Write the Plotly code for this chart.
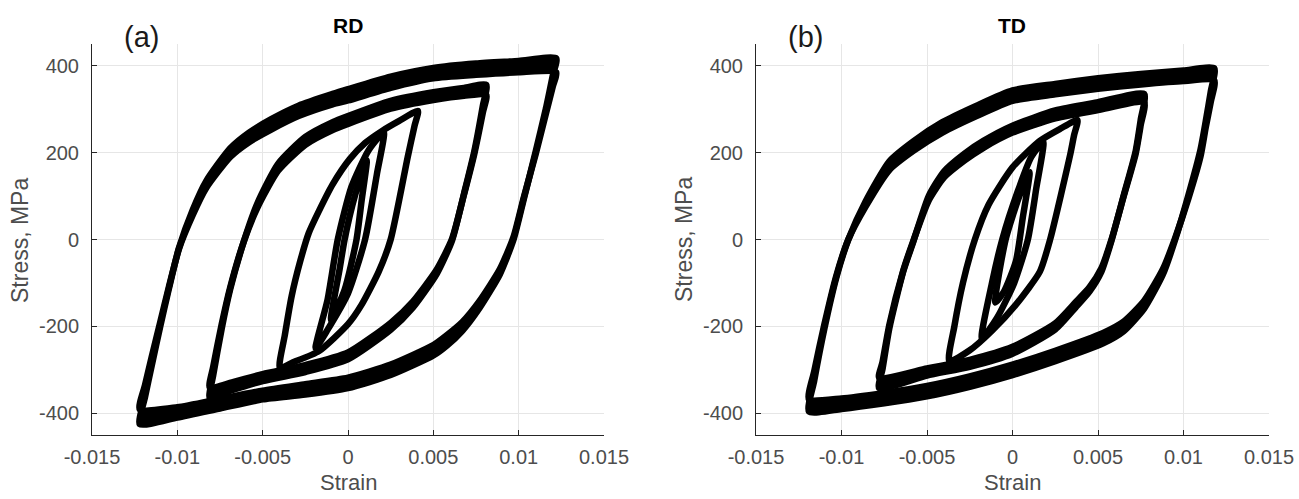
import plotly.graph_objects as go

# ---------------------------------------------------------------------------
# Stress-strain hysteresis loops, RD and TD specimens.
# Each branch: strain points, and stress of the two bounding cycles (A/B)
# where the repeated cycles form a band; single stress list otherwise.
# ---------------------------------------------------------------------------

# ---- RD, strain amplitude ~1.2 % ----
RD12_UP_EPS = [-0.0122, -0.0119, -0.0115, -0.0110, -0.0105, -0.0099, -0.0091, -0.0083, -0.0069,
               -0.0058, -0.0045, -0.0029, -0.0009, 0.0, 0.0025, 0.005, 0.0075, 0.010, 0.0122]
RD12_UP_SIG_A = [-391, -336, -270, -190, -110, -21, 56, 119, 190, 224, 253, 284, 311, 320, 349,
                 371, 379, 385, 385]
RD12_UP_SIG_B = [-425, -364, -290, -200, -114, -19, 68, 135, 210, 246, 277, 308, 335, 346, 375,
                 395, 405, 411, 417]
RD12_DN_EPS = [0.0122, 0.0120, 0.0116, 0.0110, 0.0103, 0.0097, 0.0089, 0.0077, 0.0067, 0.0058,
               0.0050, 0.0025, 0.0, -0.0025, -0.005, -0.0075, -0.010, -0.0122]
RD12_DN_SIG_A = [385, 352, 290, 197, 97, 6, -68, -142, -190, -220, -243, -288, -318, -333, -348,
                 -367, -386, -391]
RD12_DN_SIG_B = [417, 378, 302, 203, 93, 0, -80, -158, -210, -244, -267, -312, -342, -357, -368,
                 -389, -410, -425]

# ---- RD, strain amplitude ~0.8 % ----
RD08_UP_EPS = [-0.0081, -0.0079, -0.0074, -0.0069, -0.0061, -0.0053, -0.0041, -0.0025, -0.0009,
               0.0, 0.0025, 0.005, 0.0068, 0.0081]
RD08_UP_SIG_A = [-341, -293, -195, -110, -4, 74, 158, 218, 252, 266, 301, 321, 331, 333]
RD08_UP_SIG_B = [-365, -313, -205, -114, -4, 84, 174, 236, 270, 284, 319, 339, 349, 356]
RD08_DN_EPS = [0.0081, 0.0079, 0.0074, 0.0068, 0.0061, 0.0052, 0.0038, 0.0025, 0.0, -0.0025,
               -0.005, -0.0068, -0.0081]
RD08_DN_SIG_A = [333, 292, 197, 104, 2, -69, -143, -192, -260, -289, -310, -329, -341]
RD08_DN_SIG_B = [356, 308, 203, 106, -2, -79, -157, -208, -276, -305, -326, -347, -365]

# ---- RD, strain amplitude ~0.4 % ----
RD04_UP_EPS = [-0.0040, -0.0037, -0.0033, -0.0028, -0.0023, -0.0017, -0.0009, 0.0001, 0.0010,
               0.0020, 0.0030, 0.0041]
RD04_UP_SIG = [-296, -220, -130, -50, 15, 66, 127, 185, 222, 250, 273, 296]
RD04_DN_EPS = [0.0041, 0.0039, 0.0035, 0.0025, 0.0018, 0.0008, 0.0, -0.0017, -0.0033, -0.0040]
RD04_DN_SIG = [296, 262, 190, 0, -74, -150, -195, -257, -284, -296]

# ---- RD, strain amplitude ~0.2 % ----
RD02_UP_EPS = [-0.0019, -0.0012, -0.0006, 0.0002, 0.0012, 0.0021]
RD02_UP_SIG = [-250, -139, 0, 121, 205, 247]
RD02_DN_EPS = [0.0021, 0.0017, 0.0010, 0.0, -0.0012, -0.0019]
RD02_DN_SIG = [247, 152, 0, -124, -208, -250]

# ---- RD, strain amplitude ~0.1 % ----
RD01_UP_EPS = [-0.0010, -0.0005, -0.0002, 0.0004, 0.0011]
RD01_UP_SIG = [-185, -70, 0, 100, 182]
RD01_DN_EPS = [0.0011, 0.0008, 0.0005, -0.0002, -0.0010]
RD01_DN_SIG = [182, 90, 0, -116, -185]

# ---- TD, strain amplitude ~1.2 % ----
TD12_UP_EPS = [-0.0119, -0.0116, -0.0110, -0.0103, -0.0096, -0.0086, -0.0072, -0.0058, -0.0041,
               -0.0021, 0.0, 0.0025, 0.005, 0.0075, 0.010, 0.0118]
TD12_UP_SIG_A = [-368, -304, -195, -83, 0, 75, 160, 204, 246, 284, 319, 334, 347, 357, 365, 366]
TD12_UP_SIG_B = [-396, -326, -205, -87, 0, 87, 180, 226, 270, 308, 343, 358, 371, 381, 389, 394]
TD12_DN_EPS = [0.0118, 0.0116, 0.0113, 0.0110, 0.0103, 0.0095, 0.0088, 0.0077, 0.0065, 0.0053,
               0.0025, 0.0, -0.0025, -0.005, -0.0075, -0.010, -0.0119]
TD12_DN_SIG_A = [366, 318, 258, 192, 96, 2, -68, -141, -189, -215, -256, -288, -315, -337, -353,
                 -366, -368]
TD12_DN_SIG_B = [394, 342, 272, 208, 104, -2, -80, -159, -211, -239, -280, -312, -339, -361, -377,
                 -390, -396]

# ---- TD, strain amplitude ~0.8 % ----
TD08_UP_EPS = [-0.0078, -0.0076, -0.0072, -0.0064, -0.0058, -0.0049, -0.0040, -0.0028, -0.0017,
               0.0, 0.0025, 0.005, 0.0077]
TD08_UP_SIG_A = [-318, -282, -196, -73, -3, 90, 143, 182, 211, 246, 279, 298, 315]
TD08_UP_SIG_B = [-342, -298, -204, -75, -5, 100, 157, 198, 227, 262, 297, 316, 335]
TD08_DN_EPS = [0.0077, 0.0075, 0.0072, 0.0065, 0.0058, 0.0052, 0.0045, 0.0037, 0.0025, 0.0,
               -0.0025, -0.005, -0.0078]
TD08_DN_SIG_A = [315, 264, 197, 99, 1, -66, -110, -144, -193, -247, -277, -297, -318]
TD08_DN_SIG_B = [335, 276, 203, 101, -1, -74, -120, -156, -207, -263, -293, -313, -342]

# ---- TD, strain amplitude ~0.4 % ----
TD04_UP_EPS = [-0.0037, -0.0034, -0.0029, -0.0022, -0.0014, 0.0, 0.0016, 0.0028, 0.0038]
TD04_UP_SIG = [-280, -200, -100, 0, 80, 166, 227, 255, 275]
TD04_DN_EPS = [0.0038, 0.0036, 0.0034, 0.0022, 0.0016, 0.0002, -0.0012, -0.0025, -0.0037]
TD04_DN_SIG = [275, 240, 200, 0, -74, -150, -210, -255, -280]

# ---- TD, strain amplitude ~0.2 % ----
TD02_UP_EPS = [-0.0018, -0.0012, -0.0006, 0.0003, 0.0011, 0.0018]
TD02_UP_SIG = [-228, -100, 0, 110, 190, 225]
TD02_DN_EPS = [0.0018, 0.0014, 0.0009, 0.0001, -0.0009, -0.0018]
TD02_DN_SIG = [225, 120, 0, -100, -180, -228]

# ---- TD, strain amplitude ~0.1 % ----
TD01_UP_EPS = [-0.0010, -0.0004, 0.0004, 0.0010]
TD01_UP_SIG = [-145, 0, 100, 155]
TD01_DN_EPS = [0.0010, 0.0006, 0.0002, -0.0005, -0.0010]
TD01_DN_SIG = [155, 50, -50, -120, -145]

# ---- axis ticks ----
STRAIN_TICKS = [-0.015, -0.01, -0.005, 0, 0.005, 0.01, 0.015]
STRAIN_TICK_TEXT = ["-0.015", "-0.01", "-0.005", "0", "0.005", "0.01", "0.015"]
STRESS_TICKS = [-400, -200, 0, 200, 400]
STRESS_TICK_TEXT = ["-400", "-200", "0", "200", "400"]

PANEL_TITLES = ["RD", "TD"]
PANEL_TAGS = ["(a)", "(b)"]

LINE_W = 6.5
INK = "black"


def add_band(fig, xa, ya, eps, sig_a, sig_b):
    """Fill the region swept between two bounding cycles of one branch."""
    fig.add_trace(go.Scatter(
        x=list(eps) + list(eps)[::-1], y=list(sig_a) + list(sig_b)[::-1],
        mode="lines", fill="toself", fillcolor=INK, line=dict(width=0, color=INK),
        xaxis=xa, yaxis=ya, hoverinfo="skip", showlegend=False))


def add_cycle(fig, xa, ya, eps_up, sig_up, eps_dn, sig_dn):
    """One closed cycle: loading branch followed by the unloading branch."""
    x = list(eps_up) + list(eps_dn)[1:]
    y = list(sig_up) + list(sig_dn)[1:]
    fig.add_trace(go.Scatter(
        x=x, y=y, mode="lines",
        line=dict(color=INK, width=LINE_W, shape="spline", smoothing=0.6),
        xaxis=xa, yaxis=ya, showlegend=False))


def add_banded_loop(fig, xa, ya, up_eps, up_a, up_b, dn_eps, dn_a, dn_b):
    add_band(fig, xa, ya, up_eps, up_a, up_b)
    add_band(fig, xa, ya, dn_eps, dn_a, dn_b)
    add_cycle(fig, xa, ya, up_eps, up_a, dn_eps, dn_a)
    add_cycle(fig, xa, ya, up_eps, up_b, dn_eps, dn_b)


fig = go.Figure()

# RD panel
add_banded_loop(fig, "x", "y", RD12_UP_EPS, RD12_UP_SIG_A, RD12_UP_SIG_B,
                RD12_DN_EPS, RD12_DN_SIG_A, RD12_DN_SIG_B)
add_banded_loop(fig, "x", "y", RD08_UP_EPS, RD08_UP_SIG_A, RD08_UP_SIG_B,
                RD08_DN_EPS, RD08_DN_SIG_A, RD08_DN_SIG_B)
add_cycle(fig, "x", "y", RD04_UP_EPS, RD04_UP_SIG, RD04_DN_EPS, RD04_DN_SIG)
add_cycle(fig, "x", "y", RD02_UP_EPS, RD02_UP_SIG, RD02_DN_EPS, RD02_DN_SIG)
add_cycle(fig, "x", "y", RD01_UP_EPS, RD01_UP_SIG, RD01_DN_EPS, RD01_DN_SIG)

# TD panel
add_banded_loop(fig, "x2", "y2", TD12_UP_EPS, TD12_UP_SIG_A, TD12_UP_SIG_B,
                TD12_DN_EPS, TD12_DN_SIG_A, TD12_DN_SIG_B)
add_banded_loop(fig, "x2", "y2", TD08_UP_EPS, TD08_UP_SIG_A, TD08_UP_SIG_B,
                TD08_DN_EPS, TD08_DN_SIG_A, TD08_DN_SIG_B)
add_cycle(fig, "x2", "y2", TD04_UP_EPS, TD04_UP_SIG, TD04_DN_EPS, TD04_DN_SIG)
add_cycle(fig, "x2", "y2", TD02_UP_EPS, TD02_UP_SIG, TD02_DN_EPS, TD02_DN_SIG)
add_cycle(fig, "x2", "y2", TD01_UP_EPS, TD01_UP_SIG, TD01_DN_EPS, TD01_DN_SIG)

W, H = 1299, 499
FONT = "Liberation Sans, Arial, sans-serif"
AX_COLOR = "#262626"
LABEL_COLOR = "#4d4d4d"
GRID_COLOR = "#e6e6e6"

x_domains = [[92 / W, 604 / W], [756 / W, 1269 / W]]
y_domain = [64 / H, 455 / H]

common = dict(showline=True, linecolor=AX_COLOR, linewidth=1, mirror=False,
              ticks="inside", ticklen=5, tickcolor=AX_COLOR, tickwidth=1,
              showgrid=True, gridcolor=GRID_COLOR, gridwidth=1, zeroline=False,
              automargin=False,
              tickfont=dict(family=FONT, size=20, color=LABEL_COLOR))

layout_axes = {}
for i, dom in enumerate(x_domains):
    sx = "" if i == 0 else str(i + 1)
    layout_axes["xaxis" + sx] = dict(common, domain=dom, range=[-0.015, 0.015],
                                     tickmode="array", tickvals=STRAIN_TICKS,
                                     ticktext=STRAIN_TICK_TEXT, anchor="y" + sx,
                                     ticklabelstandoff=4)
    layout_axes["yaxis" + sx] = dict(common, domain=y_domain, range=[-450, 450],
                                     tickmode="array", tickvals=STRESS_TICKS,
                                     ticktext=STRESS_TICK_TEXT, anchor="x" + sx,
                                     ticklabelstandoff=8)

annotations = []
for i, dom in enumerate(x_domains):
    cx = (dom[0] + dom[1]) / 2
    annotations.append(dict(text=PANEL_TITLES[i], x=cx, y=(H - 25) / H, xref="paper", yref="paper",
                            showarrow=False, xanchor="center", yanchor="middle",
                            font=dict(family=FONT, size=21, color="black", weight="bold")))
    annotations.append(dict(text=PANEL_TAGS[i], x=dom[0] + 49 / W, y=(H - 37) / H,
                            xref="paper", yref="paper", showarrow=False,
                            xanchor="center", yanchor="middle",
                            font=dict(family=FONT, size=29, color="#1a1a1a")))
    annotations.append(dict(text="Strain", x=cx, y=2 / H, xref="paper", yref="paper",
                            showarrow=False, xanchor="center", yanchor="bottom",
                            font=dict(family=FONT, size=22, color=LABEL_COLOR)))
    annotations.append(dict(text="Stress, MPa", x=dom[0] - 72 / W, y=(H - 240) / H,
                            xref="paper", yref="paper", showarrow=False, textangle=-90,
                            xanchor="center", yanchor="middle",
                            font=dict(family=FONT, size=23, color=LABEL_COLOR)))

fig.update_layout(
    width=W, height=H, margin=dict(l=0, r=0, t=0, b=0, autoexpand=False),
    paper_bgcolor="white", plot_bgcolor="white", showlegend=False,
    annotations=annotations, **layout_axes)

fig.write_html("out.html")
